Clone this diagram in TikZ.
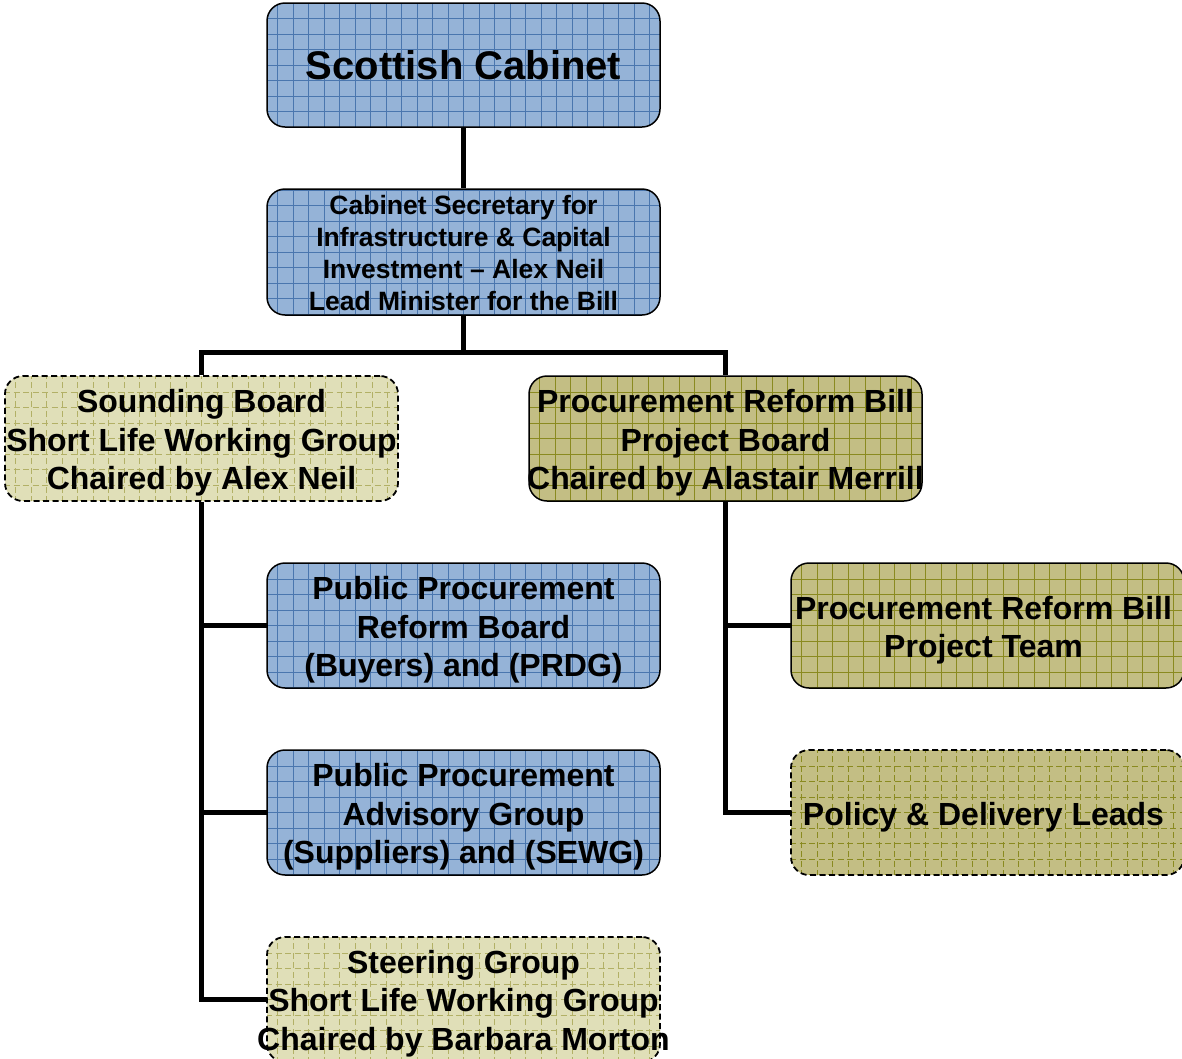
\documentclass[tikz,border=0pt]{standalone}
\usepackage{fontspec}
\setmainfont{Liberation Sans}
\definecolor{bluefill}{HTML}{95B3D7}
\definecolor{bluegrid}{HTML}{4A76AE}
\definecolor{olivefill}{HTML}{C3BE84}
\definecolor{olivegrid}{HTML}{8A8A20}
\definecolor{lightfill}{HTML}{E0DFB8}
\definecolor{lightgrid}{HTML}{B2B066}
\tikzset{
  box/.style={rounded corners=18pt, draw=black, line width=1.5pt,
    minimum width=393pt, minimum height=125pt, inner sep=0pt},
  gridin/.style={path picture={\draw[#1, line width=0.55pt]
      ([xshift=-20pt,yshift=-20pt]path picture bounding box.south west)
      grid[step=15.5pt]
      ([xshift=20pt,yshift=20pt]path picture bounding box.north east);}},
  bluebox/.style={box, fill=bluefill, gridin=bluegrid},
  olivebox/.style={box, fill=olivefill, gridin=olivegrid},
  dashedge/.style={line width=1.8pt, dash pattern=on 6pt off 3.5pt},
  olivedash/.style={olivebox, dashedge},
  lightbox/.style={box, fill=lightfill, gridin=lightgrid, dashedge},
  hugetxt/.style={inner sep=0pt, align=center, font=\bfseries\fontsize{40}{48}\selectfont},
  bigtxt/.style={inner sep=0pt, align=center, font=\bfseries\fontsize{32}{38.4}\selectfont},
  midtxt/.style={inner sep=0pt, align=center, font=\bfseries\fontsize{26.5}{31.8}\selectfont},
  conn/.style={draw=black, line width=5pt}
}
\begin{document}
\begin{tikzpicture}[x=1pt,y=-1pt]
\useasboundingbox (0,0) rectangle (1182,1058);

\coordinate (hb) at (463.5,352.5);
\path (463.5,625.5) coordinate (pprbc) (987.5,625.5) coordinate (prtc)
      (463.5,812.5) coordinate (ppagc) (987.5,812.5) coordinate (pdlc)
      (463.5,999.5) coordinate (stgc);

% upper boxes
\node[bluebox, minimum height=124pt] (cab) at (463.5,65) {};
\node[bluebox, minimum height=126pt] (sec) at (463.5,252) {};
\node[lightbox] (snd) at (201.5,438.5) {};
\node[olivebox] (prb) at (725.5,438.5) {};

% connectors
\draw[conn] (cab.south) -- (sec.north);
\draw[conn] (sec.south) -- (sec.south |- hb);
\draw[conn] (snd.north) -- (snd.north |- hb) -- (prb.north |- hb) -- (prb.north);
\draw[conn] (snd.south) |- ([xshift=-196.5pt]stgc);
\draw[conn] (snd.south |- pprbc) -- ([xshift=-196.5pt]pprbc);
\draw[conn] (snd.south |- ppagc) -- ([xshift=-196.5pt]ppagc);
\draw[conn] (prb.south) |- ([xshift=-196.5pt]pdlc);
\draw[conn] (prb.south |- prtc) -- ([xshift=-196.5pt]prtc);

% lower boxes
\node[bluebox] (pprb) at (pprbc) {};
\node[olivebox] (prt) at (prtc) {};
\node[bluebox] (ppag) at (ppagc) {};
\node[olivedash] (pdl) at (pdlc) {};
\node[lightbox] (stg) at (stgc) {};

% texts
\node[hugetxt] (cabt) at (cab.center) {Scottish Cabinet};
\node[midtxt] (sect) at ([yshift=-1pt]sec.center) {Cabinet Secretary for\\Infrastructure \& Capital\\Investment -- Alex Neil\\Lead Minister for the Bill};
\node[bigtxt] (sndt) at ([yshift=-4.5pt]snd.center) {Sounding Board\\Short Life Working Group\\Chaired by Alex Neil};
\node[bigtxt] (prbt) at ([yshift=-4.5pt]prb.center) {Procurement Reform Bill\\Project Board\\Chaired by Alastair Merrill};
\node[bigtxt] (pprbt) at ([yshift=-4.5pt]pprb.center) {Public Procurement\\Reform Board\\(Buyers) and (PRDG)};
\node[bigtxt] (prtt) at ([xshift=-4pt,yshift=-4.5pt]prt.center) {Procurement Reform Bill\\Project Team};
\node[bigtxt] (ppagt) at ([yshift=-4.5pt]ppag.center) {Public Procurement\\Advisory Group\\(Suppliers) and (SEWG)};
\node[bigtxt] (pdlt) at ([xshift=-4pt,yshift=-4.5pt]pdl.center) {Policy \& Delivery Leads};
\node[bigtxt] (stgt) at ([yshift=-4pt]stg.center) {Steering Group\\Short Life Working Group\\Chaired by Barbara Morton};
\end{tikzpicture}
\end{document}
